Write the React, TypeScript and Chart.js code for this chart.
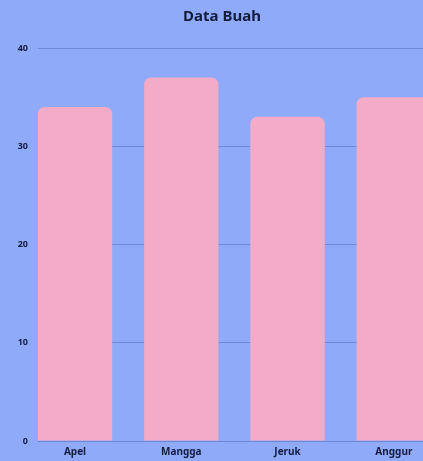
import React, { useEffect, useRef } from "react";
import { Chart, registerables } from "chart.js";

Chart.register(...registerables);

const categories: string[] = ["Apel", "Mangga", "Jeruk", "Anggur"];
const jumlah: number[] = [34, 37, 33, 35];
const yTicks: number[] = [0, 10, 20, 30, 40];
const chartTitle = "Data Buah";

const BG = "#8eaaf8";
const BAR = "#f4abc8";
const TEXT = "#141c40";
const GRID = "rgba(55, 75, 150, 0.35)";
const FONT = "'Noto Sans', sans-serif";

export default function App() {
  const ref = useRef<HTMLCanvasElement | null>(null);

  useEffect(() => {
    if (!ref.current) return;
    const chart = new Chart(ref.current, {
      type: "bar",
      data: {
        labels: categories,
        datasets: [
          {
            label: chartTitle,
            data: jumlah,
            backgroundColor: BAR,
            borderRadius: 7,
            borderSkipped: "start",
            categoryPercentage: 1,
            barPercentage: 0.7,
          },
        ],
      },
      options: {
        animation: false,
        responsive: true,
        maintainAspectRatio: false,
        layout: { padding: 0 },
        plugins: {
          legend: { display: false },
          tooltip: { enabled: false },
          title: {
            display: true,
            text: chartTitle,
            color: TEXT,
            font: { family: FONT, size: 15, weight: "bold" },
            padding: { top: 8, bottom: 22 },
          },
        },
        scales: {
          x: {
            offset: true,
            grid: { display: false, drawTicks: false },
            border: { display: false },
            ticks: {
              color: TEXT,
              padding: 5,
              font: { family: FONT, size: 10, weight: "bold" },
            },
            afterBuildTicks: (axis: any) => {
              axis._startValue = -0.348;
              axis._valueRange = 3.82;
            },
            afterFit: (axis: any) => {
              axis.height = 20;
            },
          },
          y: {
            min: 0,
            max: 40,
            afterBuildTicks: (axis: any) => {
              axis.ticks = yTicks.map((v) => ({ value: v }));
            },
            afterFit: (axis: any) => {
              axis.width = 38;
            },
            grid: { color: GRID, drawTicks: false, lineWidth: 1 },
            border: { display: false },
            ticks: {
              color: TEXT,
              padding: 10,
              font: { family: FONT, size: 9, weight: "bold" },
            },
          },
        },
      },
    });
    return () => chart.destroy();
  }, []);

  return (
    <div
      style={{
        position: "fixed",
        left: 0,
        top: 0,
        width: 423,
        height: 461,
        background: BG,
        overflow: "hidden",
      }}
    >
      <div style={{ position: "absolute", left: 0, top: 0, width: 444, height: 461 }}>
        <canvas ref={ref} />
      </div>
    </div>
  );
}
